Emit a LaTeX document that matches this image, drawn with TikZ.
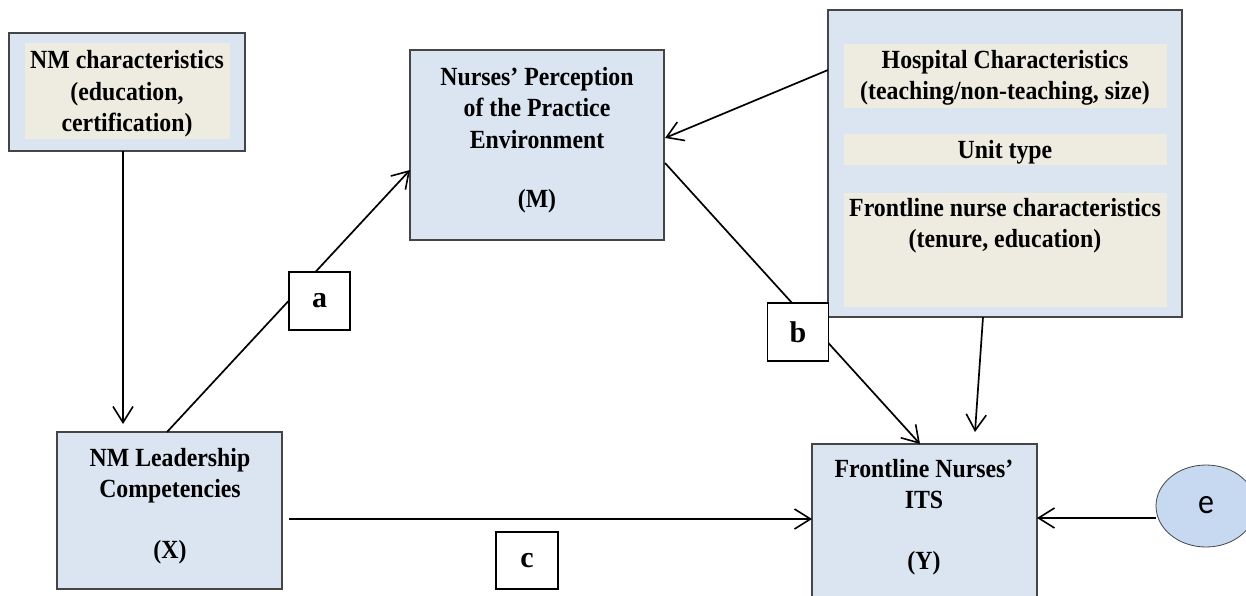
\documentclass[tikz,border=0pt]{standalone}
\usepackage{fontspec}
\setmainfont{Liberation Serif}
\newfontfamily\calib{Carlito}
\usetikzlibrary{arrows.meta,shapes.geometric}
\definecolor{boxblue}{HTML}{DBE5F1}
\definecolor{panel}{HTML}{EEECE1}
\definecolor{ellblue}{HTML}{C6D9F1}
\definecolor{edge}{HTML}{454545}
% slightly tall lettering
\newcommand\tall[1]{\scalebox{1}[1.1]{\begin{tabular}{@{}c@{}}#1\end{tabular}}}

\begin{document}
\begin{tikzpicture}[x=1pt,y=-1pt,
  box/.style={draw=edge, line width=1.1pt, fill=boxblue, inner sep=0pt},
  panelbox/.style={fill=panel, inner sep=0pt},
  lbl/.style={font=\bfseries\fontsize{23.8}{28.5}\selectfont, inner sep=0pt},
  coef/.style={draw=black, line width=1.5pt, fill=white, inner sep=0pt,
               font=\bfseries\fontsize{30}{32}\selectfont},
  conn/.style={line width=1.7pt, -{Straight Barb[length=16pt,width=20pt,line width=1.6pt]}},
  plain/.style={line width=1.7pt}]

\clip (0,0) rectangle (1246,596);
\fill[white] (0,0) rectangle (1246,596);

% NM characteristics
\node[box, minimum width=236pt, minimum height=118pt] (nmc) at (127,92) {};
\node[panelbox, minimum width=205pt, minimum height=96pt] (nmcp) at (127.5,91) {};
\node[lbl] (nmct) at (127,94) {\tall{NM characteristics\\(education,\\certification)}};

% Practice environment (M)
\node[box, minimum width=254pt, minimum height=190pt] (m) at (537,145) {};
\node[lbl] (mt) at (537,110.5) {\tall{Nurses’ Perception\\of the Practice\\Environment}};
\node[lbl] (mv) at (537,201) {\tall{(M)}};

% Covariates
\node[box, minimum width=354pt, minimum height=307pt] (h) at (1005,163.5) {};
\node[panelbox, minimum width=323pt, minimum height=64pt] (hp1) at (1005.5,76) {};
\node[panelbox, minimum width=323pt, minimum height=31pt] (hp2) at (1005.5,149.5) {};
\node[panelbox, minimum width=323pt, minimum height=114pt] (hp3) at (1005.5,250) {};
\node[lbl] (ht1) at (1005,78) {\tall{Hospital Characteristics\\(teaching/non-teaching, size)}};
\node[lbl] (ht2) at (1005,152.5) {\tall{Unit type}};
\node[lbl] (ht3) at (1005,225.5) {\tall{Frontline nurse characteristics\\(tenure, education)}};

% Leadership (X)
\node[box, minimum width=225pt, minimum height=157pt] (x) at (169.5,510.5) {};
\node[lbl] (xt) at (170,476) {\tall{NM Leadership\\Competencies}};
\node[lbl] (xv) at (170,552) {\tall{(X)}};

% Outcome (Y)
\node[box, minimum width=225pt, minimum height=176pt] (y) at (924.5,532) {};
\node[lbl] (yt) at (924,487) {\tall{Frontline Nurses’\\ITS}};
\node[lbl] (yv) at (924,563) {\tall{(Y)}};

% Error term
\node[ellipse, draw=edge, line width=0.8pt, fill=ellblue, minimum width=100pt,
      minimum height=82pt, inner sep=0pt, font=\calib\fontsize{32}{34}\selectfont] (e) at (1206,506) {\tall{e}};

% Connector end points on the box edges
\coordinate (nmcS) at (123,151);
\coordinate (xN1) at (123,424);
\coordinate (xN2) at (167,432);
\coordinate (mW) at (410,170);
\coordinate (mE1) at (665,138);
\coordinate (mE2) at (665,163);
\coordinate (hW) at (828,70);
\coordinate (hS) at (983,317);
\coordinate (yN1) at (920,444);
\coordinate (yN2) at (975,432);
\coordinate (xE) at (289,519);
\coordinate (yW) at (812,519);
\coordinate (yE) at (1037,518);
\coordinate (eW) at (1156,518);

\draw[conn] (nmcS) -- (xN1);
\draw[conn] (xN2) -- (mW);
\draw[conn] (hW) -- (mE1);
\draw[conn] (mE2) -- (yN1);
\draw[conn] (hS) -- (yN2);
\draw[conn] (xE) -- (yW);
\draw[conn] (eW) -- (yE);

% Path coefficients
\node[coef, minimum width=61pt, minimum height=58pt] (a) at (319.5,301) {a};
\node[coef, minimum width=61pt, minimum height=58pt] (b) at (798,332) {b};
\node[coef, minimum width=62pt, minimum height=57pt] (c) at (527,560.5) {c};
\end{tikzpicture}
\end{document}
